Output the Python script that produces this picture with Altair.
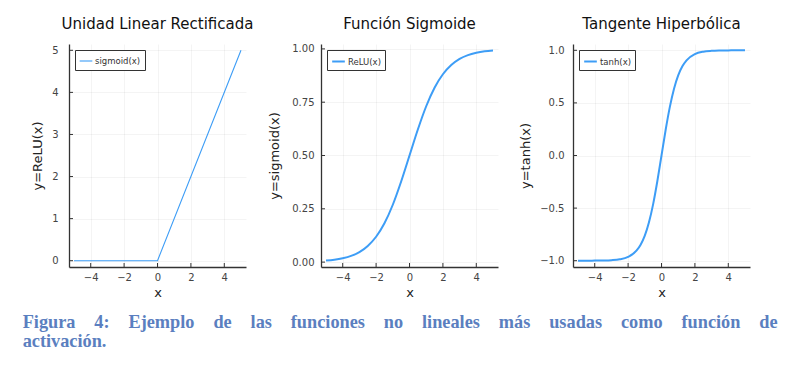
import altair as alt
import pandas as pd

# ---- data ----
relu_x = [-5.0, 0.0, 5.0]
relu_y = [0.0, 0.0, 5.0]

sig_x = [-5.0, -4.5, -4.0, -3.5, -3.0, -2.5, -2.0, -1.5, -1.0, -0.5, 0.0,
         0.5, 1.0, 1.5, 2.0, 2.5, 3.0, 3.5, 4.0, 4.5, 5.0]
sig_y = [0.007, 0.011, 0.018, 0.029, 0.047, 0.076, 0.119, 0.182, 0.269, 0.378, 0.500,
         0.622, 0.731, 0.818, 0.881, 0.924, 0.953, 0.971, 0.982, 0.989, 0.993]

tanh_x = [-5.0, -4.5, -4.0, -3.5, -3.0, -2.5, -2.0, -1.5, -1.25, -1.0, -0.75, -0.5, -0.25, 0.0,
          0.25, 0.5, 0.75, 1.0, 1.25, 1.5, 2.0, 2.5, 3.0, 3.5, 4.0, 4.5, 5.0]
tanh_y = [-1.000, -1.000, -0.999, -0.998, -0.995, -0.987, -0.964, -0.905, -0.848, -0.762, -0.635, -0.462, -0.245, 0.000,
          0.245, 0.462, 0.635, 0.762, 0.848, 0.905, 0.964, 0.987, 0.995, 0.998, 0.999, 1.000, 1.000]

titles = ["Unidad Linear Rectificada", "Función Sigmoide", "Tangente Hiperbólica"]
ytitles = ["y=ReLU(x)", "y=sigmoid(x)", "y=tanh(x)"]
legend_labels = ["sigmoid(x)", "ReLU(x)", "tanh(x)"]
x_ticks = [-4, -2, 0, 2, 4]
y_ticks = [[0, 1, 2, 3, 4, 5], [0.0, 0.25, 0.5, 0.75, 1.0], [-1.0, -0.5, 0.0, 0.5, 1.0]]
y_domains = [[-0.15, 5.15], [-0.023, 1.023], [-1.06, 1.06]]
y_formats = ["d", ".2f", ".1f"]
caption_words_1 = ["Figura", "4:", "Ejemplo", "de", "las", "funciones", "no", "lineales",
                   "más", "usadas", "como", "función", "de"]
caption_line_2 = "activación."

W, H = 177, 223
LINE_COLOR = "#3d9df6"
AXIS_COLOR = "#333333"
JUSTIFY_SPACE = "\u2002\u2004\u2009"  # widened word gap to imitate the justified caption


def panel(xs, ys, i, stroke_w, label_pad, title_pad, interp):
    df = pd.DataFrame({"x": xs, "y": ys, "label": legend_labels[i]})
    xscale = alt.Scale(domain=[-5.3, 5.3], nice=False, zero=False)
    yscale = alt.Scale(domain=y_domains[i], nice=False, zero=False)
    xaxis = alt.Axis(title="x", values=x_ticks, format="d", ticks=False,
                     labelPadding=5, titlePadding=4)
    yaxis = alt.Axis(title=ytitles[i], values=y_ticks[i], format=y_formats[i],
                     ticks=False, labelPadding=label_pad, titlePadding=title_pad)
    line = alt.Chart(df).mark_line(strokeWidth=stroke_w, interpolate=interp).encode(
        x=alt.X("x:Q", scale=xscale, axis=xaxis),
        y=alt.Y("y:Q", scale=yscale, axis=yaxis),
        color=alt.Color("label:N", scale=alt.Scale(range=[LINE_COLOR]),
                        legend=alt.Legend(title=None, orient="top-left", offset=6,
                                          padding=4, strokeColor=AXIS_COLOR, fillColor="white",
                                          symbolType="stroke", symbolSize=160,
                                          symbolStrokeWidth=stroke_w, labelFontSize=8.5,
                                          labelFont="DejaVu Sans", labelColor="#333",
                                          labelOffset=2, cornerRadius=0)),
    )
    xt = alt.Chart(pd.DataFrame({"x": x_ticks})).mark_rule(color=AXIS_COLOR, strokeWidth=1).encode(
        x=alt.X("x:Q", scale=xscale, axis=xaxis),
        y=alt.value(H), y2=alt.value(H - 4),
    )
    yt = alt.Chart(pd.DataFrame({"y": y_ticks[i]})).mark_rule(color=AXIS_COLOR, strokeWidth=1).encode(
        y=alt.Y("y:Q", scale=yscale, axis=yaxis),
        x=alt.value(0), x2=alt.value(4),
    )
    return alt.layer(line, xt, yt).properties(
        width=W, height=H,
        title=alt.TitleParams(titles[i], font="DejaVu Sans", fontSize=15, fontWeight="normal",
                              color="#111", offset=12, anchor="middle", frame="group"),
    )


p1 = panel(relu_x, relu_y, 0, 1.1, 11, 7, "linear")
p2 = panel(sig_x, sig_y, 1, 2, 7, 10, "monotone")
p3 = panel(tanh_x, tanh_y, 2, 2, 9, 7, "monotone")

chart = alt.hconcat(p1, p2, p3, spacing=75, bounds="flush").resolve_scale(
    color="independent"
).properties(
    title=alt.TitleParams([JUSTIFY_SPACE.join(caption_words_1), caption_line_2],
                          orient="bottom", anchor="start", font="Liberation Serif",
                          fontWeight="bold", fontSize=18.3, color="#5b7fc0", lineHeight=18.5,
                          offset=15, dx=-9),
    padding={"left": 14, "top": 8, "right": 5, "bottom": 5},
).configure_view(stroke=None).configure_axis(
    domainColor=AXIS_COLOR, domainWidth=1.3, gridColor="#000", gridOpacity=0.08, gridWidth=0.6,
    labelFont="DejaVu Sans", labelFontSize=10, labelColor="#444",
    titleFont="DejaVu Sans", titleFontSize=13, titleFontWeight="normal", titleColor="#222",
)

chart.save("out.html", embed_options={"renderer": "svg", "actions": False})
